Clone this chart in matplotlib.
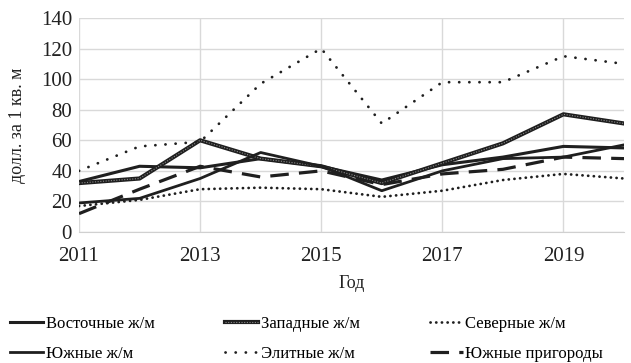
import matplotlib
matplotlib.use("Agg")
import matplotlib.pyplot as plt
from matplotlib.legend_handler import HandlerTuple

plt.rcParams["font.family"] = ["Liberation Serif", "DejaVu Serif"]

years = [2011, 2012, 2013, 2014, 2015, 2016, 2017, 2018, 2019, 2020]
east = [33, 43, 42, 48, 43, 34, 44, 49, 56, 55]
west = [32, 35, 60, 48, 43, 32, 45, 58, 77, 71]
north = [17, 21, 28, 29, 28, 23, 27, 34, 38, 35]
south = [19, 22, 35, 52, 43, 27, 40, 48, 49, 57]
elite = [40, 56, 59, 97, 120, 71, 98, 98, 115, 110]
suburbs = [12, 28, 43, 36, 40, 31, 38, 41, 49, 48]

INK = "#1f1f1f"

fig = plt.figure(figsize=(6.31, 3.63), dpi=100)
ax = fig.add_axes([79 / 631, 1 - 232 / 363, 545 / 631, 214 / 363])

l_east, = ax.plot(years, east, color=INK, lw=2.2)
w_base, = ax.plot(years, west, color=INK, lw=3.0)
w_top, = ax.plot(years, west, color="#8a8a8a", lw=0.8, ls=(0, (1, 1.4)))
l_north, = ax.plot(years, north, color=INK, lw=2.0, ls=(0, (0.05, 2.0)),
                   dash_capstyle="round")
l_south, = ax.plot(years, south, color=INK, lw=2.0)
l_elite, = ax.plot(years, elite, color=INK, lw=2.0, ls=(0, (0.05, 3.6)),
                   dash_capstyle="round")
l_sub, = ax.plot(years, suburbs, color=INK, lw=2.3, ls=(0, (5.8, 3.2)))

ax.set_xlim(2011, 2020)
ax.set_ylim(0, 140)
ax.set_xticks([2011, 2013, 2015, 2017, 2019])
ax.set_yticks(range(0, 141, 20))
ax.grid(color="#d9d9d9", lw=1.0)
ax.set_axisbelow(True)
for side in ("top", "right", "left"):
    ax.spines[side].set_visible(False)
ax.spines["bottom"].set_color("#d0d0d0")
ax.tick_params(length=0, labelsize=15, colors="#222222")
ax.tick_params(axis="x", pad=11)
ax.tick_params(axis="y", pad=5)

ax.set_ylabel("долл. за 1 кв. м", fontsize=13, color="#222222", labelpad=11)
ax.set_xlabel("Год", fontsize=13, color="#222222", labelpad=6)

handles = [l_east, (w_base, w_top), l_north, l_south, l_elite, l_sub]
labels = ["Восточные ж/м", "Западные ж/м", "Северные ж/м",
          "Южные ж/м", "Элитные ж/м", "Южные пригороды"]
# legend fills column by column, so reorder to read row by row
order = [0, 3, 1, 4, 2, 5]
fig.legend([handles[i] for i in order], [labels[i] for i in order],
           handler_map={tuple: HandlerTuple(ndivide=1, pad=0)},
           loc="lower left", bbox_to_anchor=(0.0, -0.024), ncol=3,
           frameon=False, fontsize=12, handlelength=2.0, handletextpad=0.15,
           columnspacing=4.2, labelspacing=0.85, borderaxespad=0.2)

fig.savefig("out.png", dpi=100)
